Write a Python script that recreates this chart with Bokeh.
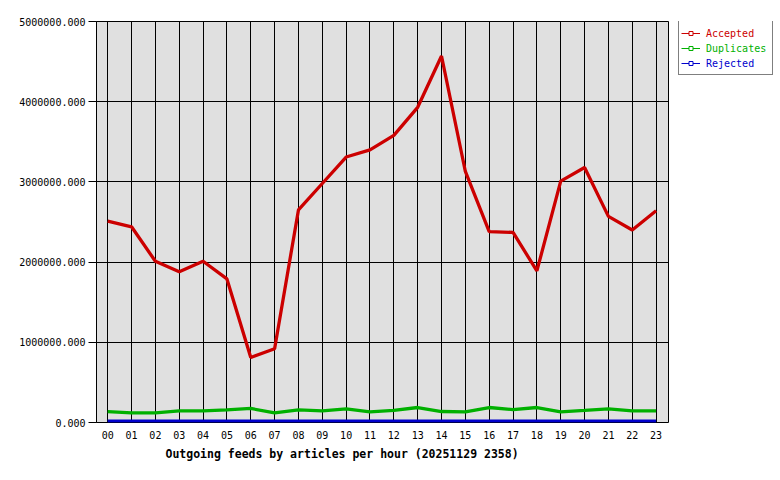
from bokeh.plotting import figure
from bokeh.layouts import row
from bokeh.models import (Range1d, FixedTicker, PrintfTickFormatter, Legend, LegendItem,
                          Title, ColumnDataSource)
from bokeh.embed import file_html
from bokeh.resources import INLINE

hours = [f"{h:02d}" for h in range(24)]
accepted = [2510000, 2440000, 2010000, 1880000, 2010000, 1790000, 810000, 920000,
            2650000, 2980000, 3310000, 3400000, 3580000, 3930000, 4570000, 3130000,
            2380000, 2370000, 1890000, 3010000, 3180000, 2570000, 2400000, 2640000]
duplicates = [135000, 120000, 120000, 145000, 145000, 158000, 175000, 120000,
              158000, 145000, 170000, 133000, 150000, 187000, 137000, 133000,
              187000, 160000, 187000, 133000, 150000, 170000, 145000, 145000]
rejected = [16000] * 24
y_ticks = [0, 1000000, 2000000, 3000000, 4000000, 5000000]
series_names = ["Accepted", "Duplicates", "Rejected"]
series_keys = ["accepted", "duplicates", "rejected"]
series_colors = ["#cc0000", "#00b000", "#0000cc"]
title_text = "Outgoing feeds by articles per hour (20251129 2358)"

x = list(range(24))
src = ColumnDataSource(dict(x=x, accepted=accepted, duplicates=duplicates, rejected=rejected))

FONT = "DejaVu Sans Mono"
H = 470
TOP = 21
FH = 401

p = figure(width=670, height=H, output_backend="svg", toolbar_location=None,
           x_range=Range1d(-0.47, 23.52), y_range=Range1d(0, 5000000),
           min_border_left=96, min_border_right=2, min_border_top=TOP,
           min_border_bottom=H - TOP - FH, title=None)
p.background_fill_color = "#e0e0e0"
p.border_fill_color = "white"
p.outline_line_color = "black"
p.outline_line_width = 1

p.xaxis.ticker = FixedTicker(ticks=x)
p.xaxis.major_label_overrides = {i: h for i, h in enumerate(hours)}
p.yaxis.ticker = FixedTicker(ticks=y_ticks)
p.yaxis.formatter = PrintfTickFormatter(format="%.3f")

for ax in (p.xaxis[0], p.yaxis[0]):
    ax.major_label_text_font = FONT
    ax.major_label_text_font_size = "10px"
    ax.major_label_text_color = "black"
    ax.minor_tick_line_color = None
    ax.major_tick_line_color = "black"
    ax.major_tick_in = 0

p.xaxis.axis_line_color = None
p.xaxis.major_tick_out = 0
p.xaxis.major_label_standoff = 8
p.yaxis.axis_line_color = "black"
p.yaxis.major_tick_out = 8
p.yaxis.major_label_standoff = 3

p.grid.grid_line_color = "black"
p.grid.grid_line_alpha = 1.0
p.grid.grid_line_width = 1

for key, col in zip(series_keys, series_colors):
    p.line("x", key, source=src, line_color=col, line_width=3.3)

t = Title(text=title_text, align="left", offset=69, text_font=FONT,
          text_font_size="11.5px", text_font_style="bold", text_color="black", standoff=6)
p.add_layout(t, "below")

# legend panel (frame aligned with the main plot's frame); its ranges keep the
# proxy renderers' data out of view, so only their legend glyphs are drawn
lp = figure(width=108, height=H, output_backend="svg", toolbar_location=None,
            x_range=Range1d(0, 1), y_range=Range1d(0, 1), x_axis_type=None, y_axis_type=None,
            min_border_left=0, min_border_right=0, min_border_top=TOP,
            min_border_bottom=H - TOP - FH, title=None)
lp.outline_line_color = None
lp.background_fill_color = "white"
lp.border_fill_color = "white"
lp.grid.visible = False

items = []
hidden = []
for name, key, col in zip(series_names, series_keys, series_colors):
    lr = lp.line("x", key, source=src, line_color=col, line_width=1)
    sr = lp.scatter("x", key, source=src, marker="square", size=4,
                    fill_color="white", line_color=col, line_width=1)
    items.append((name, col, [lr, sr]))
    hidden.append(lp.line("x", key, source=src, line_alpha=0))

common = dict(padding=5, spacing=1, glyph_width=19, glyph_height=10, label_height=14,
              margin=0, label_text_font=FONT, label_text_font_size="10px")

BOX_H = 54
box_bottom = FH - BOX_H
box = Legend(items=[LegendItem(label="", renderers=[h]) for h in hidden],
             location=(8, box_bottom), label_text_alpha=0, label_width=60, label_standoff=4,
             border_line_color="black", border_line_width=1,
             background_fill_color="white", background_fill_alpha=1, **common)
lp.add_layout(box)
for i, (n, c, r) in enumerate(items):
    lg = Legend(items=[LegendItem(label=n, renderers=r)],
                location=(11, box_bottom + 35 - 15 * i), label_standoff=6,
                label_text_color=c, border_line_color=None, background_fill_alpha=0,
                **common)
    lp.add_layout(lg)

layout = row(p, lp)
open("out.html", "w").write(file_html(layout, INLINE))
